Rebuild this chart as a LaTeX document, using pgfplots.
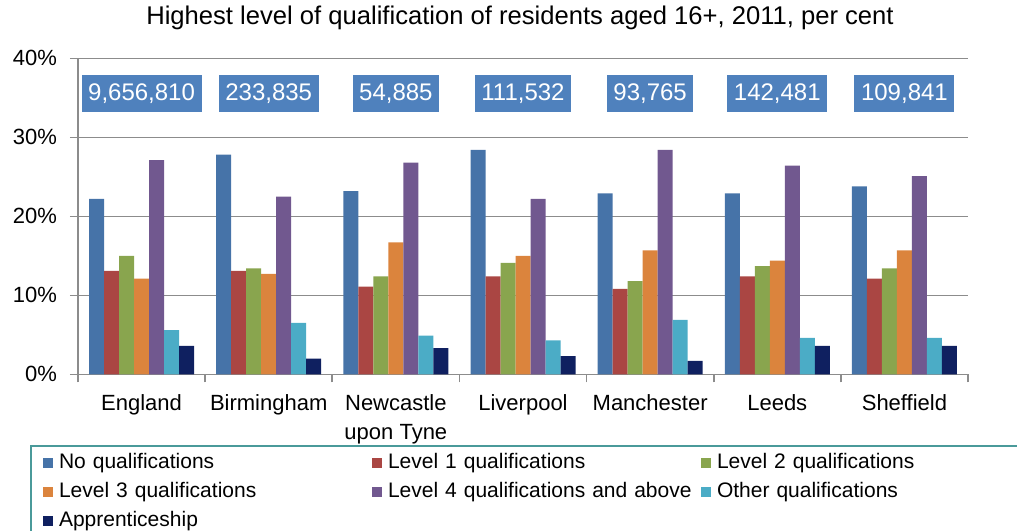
\documentclass[border=0pt]{standalone}
\usepackage{pgfplots}
\pgfplotsset{compat=1.18}
\usepackage{fontspec}
\setmainfont{Liberation Sans}
\definecolor{c1}{HTML}{4673A8}
\definecolor{c2}{HTML}{AA4643}
\definecolor{c3}{HTML}{89A54E}
\definecolor{c4}{HTML}{DB843D}
\definecolor{c5}{HTML}{71588F}
\definecolor{c6}{HTML}{4BACC6}
\definecolor{c7}{HTML}{0F2060}
\definecolor{boxblue}{HTML}{4F81BD}
\definecolor{gridgray}{HTML}{8C8C8C}
\definecolor{legborder}{HTML}{4A9A9A}
\begin{document}
\begin{tikzpicture}
\begin{axis}[
  at={(39pt,77.85pt)}, anchor=south west,
  scale only axis, width=445pt, height=158pt,
  xmin=-0.5, xmax=6.5, ymin=0, ymax=40,
  ybar=0pt, bar width=7.5pt,
  axis lines=left, axis line style={-, draw=gridgray, line width=0.8pt},
  ytick={0,10,20,30,40},
  yticklabel={\pgfmathprintnumber{\tick}\%},
  /pgf/number format/assume math mode=true,
  ymajorgrids, grid style={draw=gridgray, line width=0.8pt},
  tick align=outside, major tick length=4pt,
  tick style={draw=gridgray, line width=0.8pt},
  xtick={-0.5,0.5,...,6.5}, xticklabels={},
  extra x ticks={0,1,2,3,4,5,6},
  extra x tick labels={England,Birmingham,Newcastle\\upon Tyne,Liverpool,Manchester,Leeds,Sheffield},
  extra x tick style={major tick length=0pt, grid=none,
    xticklabel style={align=center, yshift=-6.5pt, font=\fontsize{11}{14.5}\selectfont}},
  yticklabel style={font=\fontsize{11}{13}\selectfont, xshift=-3pt},
  legend columns=3,
  legend image code/.code={\fill[#1, draw=none] (0pt,-2.5pt) rectangle (5pt,2.5pt);},
  legend style={at={(-0.0539,-0.2237)}, anchor=north west, draw=legborder, line width=1pt,
    inner xsep=6pt, inner ysep=4pt, row sep=5pt,
    font=\fontsize{10.5}{12}\selectfont,
    nodes={inner xsep=1.5pt, inner ysep=0pt, text width=155pt, text height=7.5pt, text depth=2pt, align=left},
    /tikz/every odd column/.append style={column sep=1.5pt}},
  clip=false,
]
\addplot[fill=c1, draw=none] coordinates {(0,22.2) (1,27.8) (2,23.2) (3,28.4) (4,22.9) (5,22.9) (6,23.8)};
\addplot[fill=c2, draw=none] coordinates {(0,13.1) (1,13.1) (2,11.1) (3,12.4) (4,10.8) (5,12.4) (6,12.1)};
\addplot[fill=c3, draw=none] coordinates {(0,15.0) (1,13.4) (2,12.4) (3,14.1) (4,11.8) (5,13.7) (6,13.4)};
\addplot[fill=c4, draw=none] coordinates {(0,12.1) (1,12.7) (2,16.7) (3,15.0) (4,15.7) (5,14.4) (6,15.7)};
\addplot[fill=c5, draw=none] coordinates {(0,27.1) (1,22.5) (2,26.8) (3,22.2) (4,28.4) (5,26.4) (6,25.1)};
\addplot[fill=c6, draw=none] coordinates {(0,5.6) (1,6.5) (2,4.9) (3,4.3) (4,6.9) (5,4.6) (6,4.6)};
\addplot[fill=c7, draw=none] coordinates {(0,3.6) (1,2.0) (2,3.3) (3,2.3) (4,1.7) (5,3.6) (6,3.6)};
\legend{No qualifications,Level 1 qualifications,Level 2 qualifications,Level 3 qualifications,Level 4 qualifications and above,Other qualifications,Apprenticeship}
\foreach \i/\t in {0/{9,656,810},1/{233,835},2/{54,885},3/{111,532},4/{93,765},5/{142,481},6/{109,841}}{
  \edef\temp{\noexpand\node[fill=boxblue, text=white, inner xsep=3.3pt, minimum height=18.5pt, font=\noexpand\fontsize{12}{13}\noexpand\selectfont] at (axis cs:\i,35.5) {\t};}
  \temp
}
\end{axis}
\node[font=\fontsize{12.8}{14}\selectfont] at (260pt,256pt) {Highest level of qualification of residents aged 16+, 2011, per cent};
\pgfresetboundingbox
\path[use as bounding box] (0,0) rectangle (508.5pt,265pt);
\end{tikzpicture}
\end{document}
